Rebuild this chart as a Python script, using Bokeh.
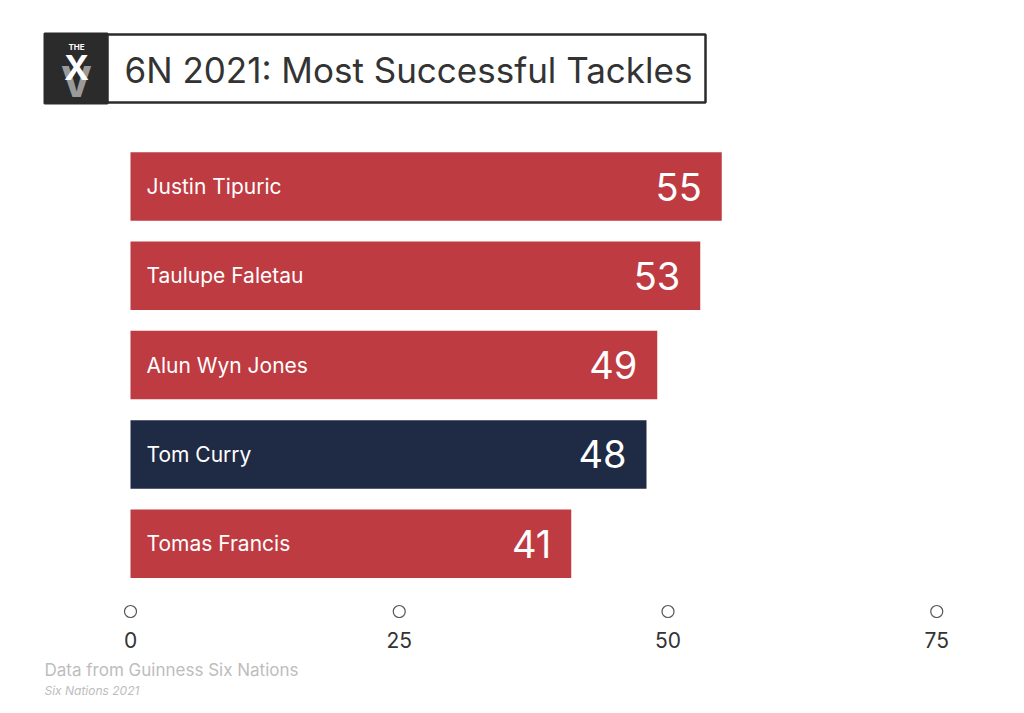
from bokeh.plotting import figure
from bokeh.models import Range1d, ColumnDataSource
from bokeh.core.properties import value
from bokeh.embed import file_html
from bokeh.resources import INLINE

# ---- data ----
names = ["Justin Tipuric", "Taulupe Faletau", "Alun Wyn Jones", "Tom Curry", "Tomas Francis"]
tackles = [55, 53, 49, 48, 41]
teams = ["Wales", "Wales", "Wales", "England", "Wales"]
ticks = [0, 25, 50, 75]
tick_labels = ["0", "25", "50", "75"]
title = "6N 2021: Most Successful Tackles"
source_note = "Data from Guinness Six Nations"
sub_note = "Six Nations 2021"

team_colors = {"Wales": "#BE3B42", "England": "#1F2A44"}

# ---- layout (page pixel geometry) ----
W, H = 1008, 697
PAGE_OFF = 0
ZERO_PX = 130      # page x of value 0
PXU = 10.75        # px per value unit
ROW0_PX = 186      # page y of first row centre
PITCH = 89.3       # px between rows
BAR_H = 68.5 / PITCH

def px_x(X):
    return (X - ZERO_PX) / PXU

def px_y(Y):
    return (Y - ROW0_PX) / PITCH

p = figure(width=W, height=H, output_backend="svg", toolbar_location=None,
           x_axis_location=None, y_axis_location=None,
           x_range=Range1d(px_x(PAGE_OFF), px_x(PAGE_OFF + W)),
           y_range=Range1d(px_y(PAGE_OFF + H), px_y(PAGE_OFF)),
           min_border=0, outline_line_color=None, background_fill_color="white",
           border_fill_color="white")
p.grid.visible = False

rows = list(range(len(names)))
src = ColumnDataSource(dict(name=names, val=tackles, row=rows,
                            color=[team_colors[t] for t in teams],
                            label=[str(v) for v in tackles],
                            zero=[0] * len(names)))

p.hbar(y="row", left="zero", right="val", height=BAR_H, fill_color="color",
       line_color=None, source=src)

p.text(x="zero", y="row", text="name", x_offset=16, text_align="left",
       text_baseline="middle", text_color="white", text_font=value("Inter"),
       text_font_size="21px", source=src)
p.text(x="val", y="row", text="label", x_offset=-20, text_align="right",
       text_baseline="middle", text_color="white", text_font=value("Inter"),
       text_font_size="38px", source=src)

# ---- custom axis: circles + labels ----
AXIS_Y = px_y(611)
LABEL_Y = px_y(639)
tsrc = ColumnDataSource(dict(x=ticks, lab=tick_labels,
                             y=[AXIS_Y] * len(ticks), ly=[LABEL_Y] * len(ticks)))
p.scatter(x="x", y="y", size=12, marker="circle", fill_color="white",
          line_color="#555555", line_width=1.2, source=tsrc)
p.text(x="x", y="ly", text="lab", text_align="center", text_baseline="middle",
       text_color="#333333", text_font=value("Inter"), text_font_size="21px",
       source=tsrc)

# ---- title box ----
p.quad(left=[px_x(44)], right=[px_x(107)], top=[px_y(33)], bottom=[px_y(103)],
       fill_color="#2B2B2B", line_color="#2B2B2B", line_width=2)
p.quad(left=[px_x(107)], right=[px_x(705)], top=[px_y(34)], bottom=[px_y(102)],
       fill_color="white", line_color="#2B2B2B", line_width=2.5)
p.text(x=[px_x(124)], y=[px_y(69)], text=[title], text_align="left",
       text_baseline="middle", text_color="#333333", text_font=value("Inter"),
       text_font_size="35px")

# logo
p.text(x=[px_x(76)], y=[px_y(46)], text=["THE"], text_align="center",
       text_baseline="middle", text_color="white", text_font=value("Inter"),
       text_font_size="8px", text_font_style="bold")
p.text(x=[px_x(76)], y=[px_y(81)], text=["V"], text_align="center",
       text_baseline="middle", text_color="#9A9A9A", text_font=value("Inter"),
       text_font_size="42px", text_font_style="bold")
p.text(x=[px_x(76)], y=[px_y(67)], text=["X"], text_align="center",
       text_baseline="middle", text_color="white", text_font=value("Inter"),
       text_font_size="34px", text_font_style="bold")

# ---- footer ----
p.text(x=[px_x(44)], y=[px_y(669)], text=[source_note], text_align="left",
       text_baseline="middle", text_color="#BDBDBD", text_font=value("Inter"),
       text_font_size="17px")
p.text(x=[px_x(44)], y=[px_y(690)], text=[sub_note], text_align="left",
       text_baseline="middle", text_color="#BDBDBD", text_font=value("Inter"),
       text_font_size="12px", text_font_style="italic")

open("out.html", "w").write(file_html(p, INLINE))
